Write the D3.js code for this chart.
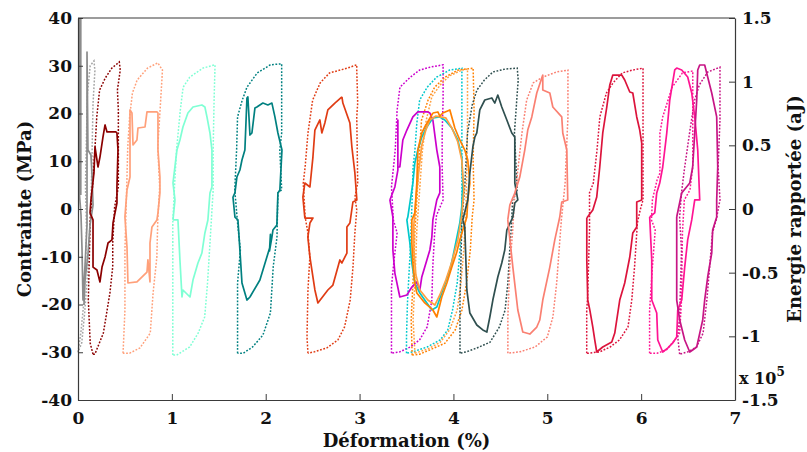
<!DOCTYPE html>
<html><head><meta charset="utf-8">
<script src="https://cdn.jsdelivr.net/npm/d3@7"></script>
<style>
body{margin:0;background:#fff}
svg text{font-family:"DejaVu Serif",serif;font-weight:bold;fill:#111}
</style></head>
<body><svg id="chart" width="807" height="452"></svg>
<script>
// ---- axis ticks ----
const strainTicks = [0,1,2,3,4,5,6,7];
const stressTicks = [-40,-30,-20,-10,0,10,20,30,40];
const energyTicks = [-1.5,-1,-0.5,0,0.5,1,1.5];
const energyTickLabels = ["-1.5","-1","-0.5","0","0.5","1","1.5"];

// ---- stress–strain loops (MPa vs %) ----
const stressGray = [[0.0,-30],[0.03,-26],[0.06,-20],[0.08,-12],[0.09,-4],[0.08,5],[0.09,15],[0.1,24],[0.13,30],[0.17,31],[0.18,29],[0.16,22],[0.15,12],[0.14,2],[0.12,-6],[0.1,-14],[0.07,-22],[0.04,-28],[0.0,-30]];
const stressDarkRed = [[0.16,-30.4],[0.13,-28.1],[0.11,-19.1],[0.12,-10.7],[0.13,-2.3],[0.16,6.1],[0.18,12.4],[0.2,19.3],[0.23,24.9],[0.29,27.4],[0.36,29.5],[0.44,30.8],[0.45,29.1],[0.42,24.9],[0.43,20.7],[0.43,12.4],[0.43,4.6],[0.39,0.4],[0.37,-7.1],[0.37,-12.1],[0.34,-17.6],[0.27,-26],[0.18,-30.4],[0.16,-30.4]];
const stressLightSalmon = [[0.48,-30.2],[0.5,-21.2],[0.5,-8.6],[0.52,5.4],[0.53,13],[0.55,19.3],[0.58,24.3],[0.63,27],[0.74,29.5],[0.85,30.6],[0.9,29.1],[0.87,19.3],[0.85,13],[0.87,4.6],[0.85,-2.3],[0.84,-10.1],[0.8,-17.6],[0.77,-26],[0.66,-29.1],[0.55,-30.2],[0.48,-30.2]];
const stressAquamarine = [[1.01,-30.6],[1.01,-19.1],[1.01,-2.9],[1.03,5.4],[1.05,12.4],[1.09,20.7],[1.12,25.5],[1.19,27.6],[1.33,29.5],[1.46,30.2],[1.45,22.8],[1.44,12.4],[1.44,4],[1.41,-5.9],[1.38,-15.5],[1.35,-22.6],[1.28,-26],[1.19,-28.9],[1.05,-30.6],[1.01,-30.6]];
const stressTeal = [[1.7,-30.2],[1.7,-26.8],[1.7,-15.5],[1.73,-8.6],[1.7,-2.9],[1.67,4],[1.69,12.4],[1.7,19.3],[1.75,22.8],[1.8,25.5],[1.91,28.5],[2.05,30.2],[2.17,30.4],[2.17,15.9],[2.15,12.4],[2.17,4],[2.13,3.4],[2.12,-5.9],[2.08,-12.1],[2.05,-21.8],[1.97,-26.4],[1.86,-28.9],[1.76,-30.2],[1.7,-30.2]];
const stressOrangeRed = [[2.45,-30.2],[2.44,-26.8],[2.45,-17],[2.47,-10.1],[2.45,-5],[2.42,-1.7],[2.4,5.4],[2.42,8.8],[2.45,15.9],[2.5,22.8],[2.58,26.4],[2.68,28.5],[2.87,29.5],[2.97,30.2],[2.97,29.1],[2.98,22.2],[2.97,19.3],[2.98,5.4],[2.95,2.5],[2.97,-0.2],[2.95,-5],[2.93,-12.1],[2.9,-19.1],[2.84,-24.7],[2.77,-27.4],[2.65,-29.1],[2.52,-29.9],[2.45,-30.2]];
const stressMagenta = [[3.34,-30.2],[3.34,-16.3],[3.36,-12.1],[3.4,-5],[3.36,-2.3],[3.34,4.6],[3.38,12.4],[3.4,20.7],[3.43,25.5],[3.54,27.6],[3.64,29.1],[3.75,29.7],[3.89,30.2],[3.89,22.8],[3.88,15.9],[3.88,8.8],[3.89,1.9],[3.82,-1.3],[3.8,-5],[3.78,-12.1],[3.77,-19.1],[3.72,-24.7],[3.64,-27.4],[3.54,-28.9],[3.43,-29.9],[3.34,-30.2]];
const stressTurquoise = [[3.5,-30.2],[3.5,-26.8],[3.51,-19.7],[3.54,-8.6],[3.56,1.9],[3.57,8.8],[3.59,12.4],[3.61,18],[3.64,22.8],[3.72,25.5],[3.82,27.6],[3.96,29.1],[4.09,29.5],[4.09,18.6],[4.09,4],[4.09,-1.7],[4.07,-8.6],[4.04,-15.5],[3.99,-21.2],[3.94,-25.3],[3.86,-27.4],[3.72,-28.9],[3.57,-29.9],[3.5,-30.2]];
const stressOrangeA = [[3.56,-30.6],[3.55,-23.2],[3.57,-14.9],[3.59,-4.4],[3.61,1.9],[3.64,12.4],[3.66,18.6],[3.73,22.8],[3.8,25.5],[3.91,27.6],[4.05,29.1],[4.21,29.5],[4.22,20.7],[4.21,10.3],[4.22,1.9],[4.2,-1.7],[4.18,-8.6],[4.14,-15.5],[4.09,-21.2],[4.02,-25.3],[3.91,-28.1],[3.75,-29.5],[3.64,-30.4],[3.56,-30.6]];
const stressOrangeB = [[3.59,-30.2],[3.57,-23.2],[3.59,-14.9],[3.61,-4.4],[3.64,4],[3.67,12.4],[3.71,18.6],[3.77,23.5],[3.86,26],[3.96,27.9],[4.09,29.1],[4.15,29.3],[4.15,18.6],[4.14,6.1],[4.13,-1.7],[4.11,-8.6],[4.08,-15.5],[4.04,-21.2],[3.96,-25.3],[3.86,-27.9],[3.73,-29.3],[3.59,-30.2]];
const stressSlate = [[4.07,-30.2],[4.07,-19.1],[4.09,-2.3],[4.12,4.6],[4.15,15.9],[4.2,21.8],[4.25,24.9],[4.33,27],[4.42,28.7],[4.55,29.3],[4.68,29.5],[4.69,27],[4.68,24.3],[4.65,15.9],[4.68,4],[4.63,1.9],[4.62,-2.9],[4.6,-8.6],[4.58,-15.5],[4.55,-21.2],[4.49,-24.7],[4.39,-27.9],[4.25,-29.1],[4.14,-29.9],[4.07,-30.2]];
const stressSalmon = [[4.58,-30.2],[4.58,-22.6],[4.6,-12.1],[4.63,-5],[4.65,1.9],[4.69,8.8],[4.73,15.9],[4.78,22.8],[4.85,26.4],[4.95,27.6],[5.1,28.7],[5.22,29.1],[5.22,19.3],[5.2,10.3],[5.19,5.4],[5.15,-2.3],[5.13,-7.5],[5.1,-15.5],[5.06,-22.6],[5.0,-26.8],[4.87,-28.9],[4.71,-29.9],[4.58,-30.2]];
const stressCrimson = [[5.42,-30.2],[5.42,-21.2],[5.43,-18.4],[5.45,-4.4],[5.45,3.4],[5.49,5.4],[5.53,12.4],[5.56,19.3],[5.63,24.3],[5.7,26.4],[5.8,28.5],[5.91,29.1],[6.02,29.5],[6.02,16.5],[6.02,1.9],[5.99,-0.2],[5.96,-2.9],[5.93,-12.1],[5.9,-19.1],[5.86,-24.7],[5.77,-27.4],[5.67,-28.9],[5.56,-29.9],[5.45,-30.2],[5.42,-30.2]];
const stressDeepPink = [[6.09,-30.2],[6.09,-21.2],[6.12,-12.1],[6.15,-4.4],[6.11,-2.3],[6.12,1.9],[6.17,6.1],[6.2,7.5],[6.2,15.9],[6.23,19.3],[6.33,25.5],[6.44,28.5],[6.55,28.9],[6.55,19.3],[6.55,8.8],[6.52,4],[6.46,1.9],[6.44,-5],[6.43,-19.1],[6.41,-26],[6.36,-27.4],[6.27,-29.5],[6.17,-30.2],[6.09,-30.2]];
const stressVioletRed = [[6.41,-30.4],[6.39,-26.8],[6.41,-22.6],[6.43,-8.6],[6.41,-1.7],[6.43,3.4],[6.46,8.2],[6.52,16.5],[6.57,22.8],[6.62,26],[6.71,28.7],[6.84,29.7],[6.84,18.6],[6.82,8.8],[6.84,1.9],[6.8,-2.3],[6.76,-5],[6.73,-12.1],[6.7,-19.1],[6.66,-26],[6.59,-28.9],[6.5,-29.9],[6.41,-30.4]];

// ---- reported energy loops (x 10^5 aJ vs %) ----
const energyGrayBar = [[0.02,1.5],[0.02,0.11]];
const energyGray = [[0.016,0.11],[0.032,-0.047],[0.043,-0.322],[0.053,-0.715],[0.075,-0.44],[0.096,-0.126],[0.096,1.233],[0.106,0.463],[0.138,0.424],[0.149,0.267],[0.16,0.031],[0.128,-0.126],[0.106,-0.361],[0.075,-0.558],[0.064,-0.754]];
const energyDarkRed = [[0.128,-0.031],[0.16,-0.086],[0.16,-0.456],[0.202,-0.479],[0.234,-0.573],[0.256,-0.456],[0.288,-0.377],[0.32,-0.267],[0.362,-0.243],[0.373,-0.11],[0.415,0.047],[0.415,0.173],[0.426,0.463],[0.415,0.597],[0.405,0.605],[0.309,0.605],[0.288,0.66],[0.266,0.565],[0.234,0.408],[0.213,0.33],[0.181,0.487],[0.17,0.283],[0.138,0.071],[0.128,-0.031]];
const energyLightSalmon = [[0.5,-0.063],[0.522,-0.298],[0.532,-0.581],[0.628,-0.573],[0.735,-0.495],[0.745,-0.4],[0.767,-0.573],[0.767,-0.267],[0.788,-0.141],[0.841,-0.086],[0.852,-0.031],[0.873,0.126],[0.873,0.251],[0.852,0.463],[0.852,0.754],[0.841,0.762],[0.735,0.762],[0.714,0.644],[0.639,0.636],[0.628,0.542],[0.586,0.503],[0.575,0.754],[0.554,0.778],[0.554,0.251],[0.522,0.149],[0.5,-0.063]];
const energyAquamarine = [[1.012,-0.086],[1.065,-0.086],[1.086,-0.4],[1.108,-0.691],[1.118,-0.636],[1.193,-0.691],[1.225,-0.558],[1.278,-0.424],[1.32,-0.346],[1.352,-0.188],[1.384,-0.086],[1.406,0.126],[1.427,0.173],[1.427,0.463],[1.406,0.597],[1.374,0.723],[1.352,0.801],[1.32,0.817],[1.225,0.801],[1.171,0.754],[1.118,0.644],[1.086,0.542],[1.054,0.463],[1.012,0.204],[1.033,0.071],[1.012,-0.086]];
const energyTeal = [[1.651,0.094],[1.672,-0.063],[1.704,-0.086],[1.725,-0.322],[1.747,-0.581],[1.8,-0.715],[1.832,-0.691],[1.938,-0.558],[2.045,-0.298],[2.05,-0.2],[2.04,-0.33],[2.066,-0.22],[2.077,-0.165],[2.119,-0.126],[2.13,0.126],[2.151,0.149],[2.173,0.463],[2.13,0.597],[2.098,0.723],[2.066,0.832],[2.023,0.817],[1.97,0.832],[1.906,0.801],[1.885,0.793],[1.853,0.597],[1.832,0.581],[1.81,0.88],[1.8,0.872],[1.778,0.463],[1.747,0.385],[1.725,0.306],[1.693,0.251],[1.672,0.126],[1.651,0.094]];
const energyOrangeRed = [[2.812,0.88],[2.822,0.832],[2.897,0.675],[2.918,0.487],[2.95,0.283],[2.971,0.071],[2.929,0.055],[2.897,-0.11],[2.865,-0.141],[2.865,-0.346],[2.812,-0.424],[2.79,-0.4],[2.716,-0.597],[2.662,-0.636],[2.556,-0.738],[2.524,-0.636],[2.471,-0.377],[2.449,-0.22],[2.471,-0.11],[2.503,-0.071],[2.417,-0.071],[2.396,0.094],[2.417,0.204],[2.471,0.173],[2.503,0.408],[2.524,0.62],[2.577,0.699],[2.598,0.597],[2.63,0.675],[2.662,0.778],[2.737,0.832],[2.812,0.88]];
const energyMagenta = [[3.323,0.071],[3.355,-0.063],[3.355,-0.322],[3.376,-0.503],[3.429,-0.691],[3.504,-0.675],[3.557,-0.613],[3.61,-0.573],[3.642,-0.636],[3.663,-0.534],[3.717,-0.4],[3.749,-0.322],[3.77,-0.22],[3.781,-0.086],[3.823,0.071],[3.855,0.126],[3.855,0.33],[3.823,0.463],[3.781,0.699],[3.749,0.754],[3.727,0.762],[3.621,0.762],[3.568,0.723],[3.504,0.62],[3.461,0.542],[3.429,0.33],[3.408,0.33],[3.408,0.699],[3.408,0.306],[3.376,0.173],[3.323,0.071]];
const energyTurquoise = [[3.781,0.715],[3.855,0.723],[3.908,0.699],[3.983,0.636],[4.047,0.542],[4.089,0.408],[4.1,0.204],[4.089,0.016],[4.068,-0.11],[3.994,-0.377],[3.962,-0.479],[3.887,-0.636],[3.823,-0.77],[3.77,-0.793],[3.717,-0.738],[3.642,-0.66],[3.589,-0.581],[3.557,-0.424],[3.536,-0.267],[3.504,-0.086],[3.514,-0.063],[3.568,0.204],[3.589,0.361],[3.621,0.463],[3.663,0.565],[3.717,0.644],[3.781,0.715]];
const energyOrangeA = [[3.781,0.754],[3.834,0.762],[3.855,0.73],[3.887,0.754],[3.962,0.778],[4.015,0.636],[4.068,0.542],[4.121,0.463],[4.153,0.385],[4.175,0.204],[4.153,0.071],[4.143,-0.063],[4.1,-0.165],[4.068,-0.243],[4.036,-0.338],[3.983,-0.456],[3.93,-0.581],[3.876,-0.691],[3.823,-0.848],[3.781,-0.793],[3.695,-0.738],[3.61,-0.66],[3.589,-0.581],[3.568,-0.424],[3.557,-0.267],[3.557,-0.086],[3.589,-0.031],[3.61,0.204],[3.621,0.463],[3.663,0.597],[3.695,0.644],[3.781,0.754]];
const energyOrangeB = [[3.749,0.699],[3.813,0.73],[3.919,0.715],[3.983,0.636],[4.047,0.526],[4.089,0.385],[4.111,0.149],[4.089,-0.047],[4.047,-0.243],[3.983,-0.416],[3.919,-0.558],[3.855,-0.675],[3.802,-0.754],[3.727,-0.715],[3.642,-0.636],[3.6,-0.518],[3.578,-0.322],[3.578,-0.126],[3.6,0.071],[3.632,0.306],[3.663,0.503],[3.706,0.62],[3.749,0.699]];
const energySlate = [[4.1,-0.086],[4.121,-0.141],[4.143,-0.636],[4.175,-0.817],[4.249,-0.911],[4.313,-0.95],[4.356,-0.966],[4.388,-0.848],[4.42,-0.715],[4.473,-0.534],[4.515,-0.424],[4.547,-0.322],[4.569,-0.165],[4.633,-0.063],[4.654,0.047],[4.686,0.071],[4.654,0.204],[4.654,0.565],[4.622,0.597],[4.569,0.699],[4.515,0.801],[4.473,0.895],[4.441,0.832],[4.409,0.872],[4.334,0.856],[4.281,0.778],[4.249,0.597],[4.228,0.565],[4.207,0.487],[4.175,0.283],[4.153,0.071],[4.1,-0.086]];
const energySalmon = [[4.579,-0.086],[4.633,-0.456],[4.686,-0.793],[4.739,-0.966],[4.814,-0.982],[4.888,-0.927],[4.92,-0.872],[4.952,-0.715],[5.027,-0.456],[5.08,-0.243],[5.133,-0.063],[5.154,0.055],[5.218,0.071],[5.208,0.463],[5.165,0.597],[5.154,0.723],[5.059,0.801],[5.027,0.911],[4.952,0.935],[4.952,1.052],[4.888,0.911],[4.835,0.723],[4.792,0.62],[4.76,0.463],[4.707,0.251],[4.654,0.126],[4.601,0.031],[4.579,-0.086]];
const energyCrimson = [[5.421,-0.071],[5.421,-0.4],[5.431,-0.715],[5.453,-0.793],[5.485,-0.927],[5.506,-1.029],[5.527,-1.123],[5.591,-1.084],[5.687,-1.045],[5.719,-0.974],[5.772,-0.715],[5.825,-0.581],[5.879,-0.377],[5.911,-0.188],[5.953,-0.141],[5.953,0.055],[6.006,0.071],[6.006,0.518],[5.985,0.62],[5.953,0.723],[5.911,0.911],[5.879,0.919],[5.825,1.013],[5.793,1.052],[5.698,1.052],[5.666,0.974],[5.634,0.801],[5.591,0.597],[5.559,0.33],[5.527,0.094],[5.485,-0.008],[5.421,-0.071]];
const energyDeepPink = [[6.091,-0.063],[6.113,-0.4],[6.113,-0.715],[6.166,-0.817],[6.177,-1.029],[6.23,-1.123],[6.283,-1.092],[6.337,-1.052],[6.379,-1.005],[6.39,-0.793],[6.432,-0.715],[6.464,-0.456],[6.496,-0.243],[6.539,-0.086],[6.571,0.071],[6.624,0.071],[6.603,0.463],[6.571,0.723],[6.539,0.911],[6.496,1.037],[6.432,1.092],[6.379,1.107],[6.358,1.092],[6.305,0.856],[6.273,0.597],[6.23,0.33],[6.198,0.204],[6.166,0.126],[6.145,-0.031],[6.091,-0.063]];
const energyVioletRed = [[6.379,-0.063],[6.379,-0.715],[6.411,-0.872],[6.464,-1.029],[6.518,-1.123],[6.549,-1.107],[6.592,-1.084],[6.656,-0.872],[6.677,-0.715],[6.709,-0.534],[6.752,-0.346],[6.762,-0.165],[6.805,-0.063],[6.805,0.071],[6.816,0.33],[6.805,0.723],[6.752,0.911],[6.709,1.037],[6.677,1.131],[6.624,1.131],[6.603,1.092],[6.592,0.856],[6.571,0.597],[6.549,0.33],[6.518,0.204],[6.432,0.126],[6.379,-0.063]];

// ---- styling (kept apart from the data) ----
const cycles = [
  {stress: stressGray,        energy: [energyGray],        color: "#a6a6a6", ecolor: "#8c8c8c"},
  {stress: stressDarkRed,     energy: [energyDarkRed],     color: "#8b0000"},
  {stress: stressLightSalmon, energy: [energyLightSalmon], color: "#ffa07a"},
  {stress: stressAquamarine,  energy: [energyAquamarine],  color: "#7fffd4"},
  {stress: stressTeal,        energy: [energyTeal],        color: "#008080"},
  {stress: stressOrangeRed,   energy: [energyOrangeRed],   color: "#e03c14"},
  {stress: stressMagenta,     energy: [energyMagenta],     color: "#cc00cc"},
  {stress: stressTurquoise,   energy: [energyTurquoise],   color: "#00c8cc"},
  {stress: stressOrangeB,     energy: [energyOrangeB],     color: "#ffa040"},
  {stress: stressOrangeA,     energy: [energyOrangeA],     color: "#ff8000"},
  {stress: stressSlate,       energy: [energySlate],       color: "#2f4f4f"},
  {stress: stressSalmon,      energy: [energySalmon],      color: "#fa8072"},
  {stress: stressCrimson,     energy: [energyCrimson],     color: "#dc143c"},
  {stress: stressDeepPink,    energy: [energyDeepPink],    color: "#ff1493"},
  {stress: stressVioletRed,   energy: [energyVioletRed],   color: "#c71585"}
];

const svg = d3.select("#chart");
const L = 78, R = 735, T = 18, B = 400;
const x = d3.scaleLinear().domain([0,7]).range([L,R]);
const yS = d3.scaleLinear().domain([-40,40]).range([B,T]);
const yE = d3.scaleLinear().domain([-1.5,1.5]).range([B,T]);

const lineS = d3.line().x(d=>x(d[0])).y(d=>yS(d[1]));
const lineE = d3.line().x(d=>x(d[0])).y(d=>yE(d[1]));

const plot = svg.append("g");
cycles.forEach(c => {
  plot.append("path").attr("d", lineS(c.stress)).attr("fill","none")
    .attr("stroke", c.color).attr("stroke-width",1.5).attr("stroke-dasharray","1.8,1.6");
});
plot.append("path").attr("d", lineE(energyGrayBar)).attr("fill","none")
  .attr("stroke","#8c8c8c").attr("stroke-width",3.5);
cycles.forEach(c => {
  c.energy.forEach(e => {
    plot.append("path").attr("d", lineE(e)).attr("fill","none")
      .attr("stroke", c.ecolor || c.color).attr("stroke-width",1.7).attr("stroke-linejoin","round");
  });
});

// axes
const axisColor = "#3a3a3a";
const gx = svg.append("g").attr("transform",`translate(0,${B})`)
  .call(d3.axisBottom(x).tickValues(strainTicks).tickSize(-6).tickSizeOuter(0).tickPadding(12).tickFormat(d=>String(d)));
const gl = svg.append("g").attr("transform",`translate(${L},0)`)
  .call(d3.axisLeft(yS).tickValues(stressTicks).tickSize(-5).tickSizeOuter(0).tickPadding(6).tickFormat(d=>String(d)));
const gr = svg.append("g").attr("transform",`translate(${R},0)`)
  .call(d3.axisRight(yE).tickValues(energyTicks).tickSize(-6).tickSizeOuter(0).tickPadding(7).tickFormat((d,i)=>energyTickLabels[i]));
[gx,gl,gr].forEach(g=>{
  g.selectAll("path.domain").attr("stroke",axisColor).attr("stroke-width",1.2);
  g.selectAll(".tick line").attr("stroke",axisColor);
  g.selectAll(".tick text").attr("font-size",17).attr("font-family","DejaVu Serif").attr("font-weight","bold").attr("fill","#111");
});
svg.append("line").attr("x1",L).attr("x2",R).attr("y1",T).attr("y2",T).attr("stroke",axisColor).attr("stroke-width",1.2);

// titles
svg.append("text").attr("x",(L+R)/2).attr("y",447).attr("text-anchor","middle").attr("font-size",18).text("Déformation (%)");
svg.append("text").attr("transform",`translate(31,${(T+B)/2}) rotate(-90)`).attr("text-anchor","middle").attr("font-size",18).text("Contrainte (MPa)");
svg.append("text").attr("transform",`translate(801,${(T+B)/2}) rotate(-90)`).attr("text-anchor","middle").attr("font-size",18).text("Energie rapportée (aJ)");
const ex = svg.append("text").attr("x",739).attr("y",384).attr("font-size",16).text("x 10");
ex.append("tspan").attr("dy",-8).attr("font-size",12).text("5");
</script></body></html>
